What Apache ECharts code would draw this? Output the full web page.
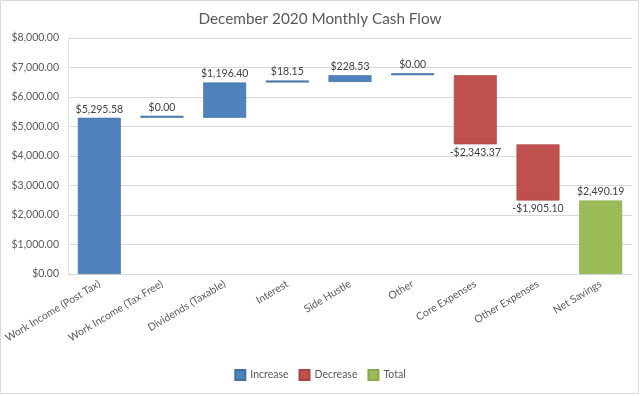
<!DOCTYPE html>
<html>
<head>
<meta charset="utf-8">
<script src="https://cdn.jsdelivr.net/npm/echarts@6/dist/echarts.min.js"></script>
<style>
  html, body { margin: 0; padding: 0; background: #fff; }
  #chart { width: 640px; height: 396px; }
</style>
</head>
<body>
<div id="chart"></div>
<script>
// waterfall data
var categories = ['Work Income (Post Tax)', 'Work Income (Tax Free)', 'Dividends (Taxable)', 'Interest',
  'Side Hustle', 'Other', 'Core Expenses', 'Other Expenses', 'Net Savings'];
var changes = [5295.58, 0.00, 1196.40, 18.15, 228.53, 0.00, -2343.37, -1905.10];
var totalValue = 2490.19;
var yTicks = [0, 8000, 1000];

function money(v) {
  var s = Math.abs(v).toFixed(2).replace(/\B(?=(\d{3})+(?!\d))/g, ',');
  return (v < 0 ? '-$' : '$') + s;
}

// build the stacked pieces
var base = [], inc = [], dec = [], tot = [];
var running = 0;
changes.forEach(function (c) {
  if (c >= 0) {
    base.push(running);
    inc.push(c);
    dec.push('-');
  } else {
    base.push(running + c);
    inc.push('-');
    dec.push(-c);
  }
  tot.push('-');
  running += c;
});
base.push(0);
inc.push('-');
dec.push('-');
tot.push(totalValue);

var font = 'Lato, "Open Sans", sans-serif';
var labelStyle = { color: '#404040', fontSize: 10.5, fontFamily: font };

var chart = echarts.init(document.getElementById('chart'));
var option = {
  animation: false,
  title: {
    text: 'December 2020 Monthly Cash Flow',
    left: 'center',
    top: 7,
    textStyle: { color: '#595959', fontSize: 15.3, fontWeight: 'normal', fontFamily: font }
  },
  legend: {
    data: ['Increase', 'Decrease', 'Total'],
    bottom: 10,
    left: 'center',
    icon: 'rect',
    itemWidth: 10,
    itemHeight: 10,
    itemGap: 10,
    textStyle: { color: '#595959', fontSize: 10.5, fontFamily: font }
  },
  graphic: [{
    type: 'rect',
    shape: { x: 0.5, y: 0.5, width: 638, height: 393 },
    style: { fill: 'none', stroke: '#d9d9d9', lineWidth: 1 },
    silent: true
  }],
  grid: { left: 68, right: 8, top: 38, bottom: 122 },
  xAxis: {
    type: 'category',
    data: categories,
    axisLine: { lineStyle: { color: '#d9d9d9' } },
    axisTick: { show: false },
    axisLabel: {
      interval: 0, rotate: 31, margin: 9,
      color: '#595959', fontSize: 10.5, fontFamily: font
    }
  },
  yAxis: {
    type: 'value',
    min: yTicks[0], max: yTicks[1], interval: yTicks[2],
    axisLine: { show: true, lineStyle: { color: '#e6e6e6' } },
    axisTick: { show: false },
    splitLine: { lineStyle: { color: '#d9d9d9' } },
    axisLabel: {
      margin: 9, color: '#595959', fontSize: 10.5, fontFamily: font,
      formatter: function (v) { return money(v); }
    }
  },
  series: [
    {
      name: 'base', type: 'bar', stack: 'wf', data: base, barWidth: 43,
      itemStyle: { color: 'transparent' }, silent: true
    },
    {
      name: 'Increase', type: 'bar', stack: 'wf', data: inc, barWidth: 43, barMinHeight: 2,
      itemStyle: { color: '#4f81bd', borderColor: '#41719c', borderWidth: 0.6 },
      label: {
        show: true, position: 'top', distance: 3, ...labelStyle,
        formatter: function (p) { return money(p.value); }
      }
    },
    {
      name: 'Decrease', type: 'bar', stack: 'wf', data: dec, barWidth: 43,
      itemStyle: { color: '#c0504d', borderColor: '#a94442', borderWidth: 0.6 },
      label: {
        show: true, position: 'bottom', distance: 3, ...labelStyle,
        formatter: function (p) { return money(-p.value); }
      }
    },
    {
      name: 'Total', type: 'bar', stack: 'wf', data: tot, barWidth: 43,
      itemStyle: { color: '#9bbb59', borderColor: '#8aa84e', borderWidth: 0.6 },
      label: {
        show: true, position: 'top', distance: 3, ...labelStyle,
        formatter: function (p) { return money(p.value); }
      }
    }
  ]
};
chart.setOption(option);
</script>
</body>
</html>
